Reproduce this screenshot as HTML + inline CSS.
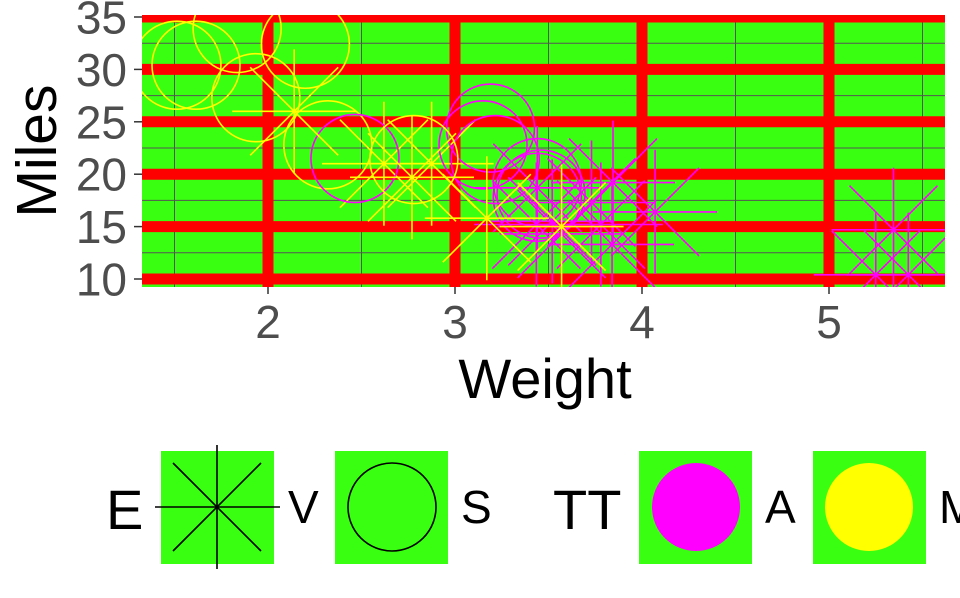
<!DOCTYPE html>
<html><head><meta charset="utf-8"><style>
body{margin:0;background:#fff;}
svg text{font-family:"Liberation Sans",sans-serif;}
</style></head><body>
<svg width="960" height="593" viewBox="0 0 960 593">
<defs><clipPath id="pc"><rect x="142" y="15" width="803" height="272"/></clipPath></defs>
<g id="panel"></g>
<g id="axes"></g>
<text x="545" y="398" font-size="56" text-anchor="middle" fill="#000">Weight</text>
<text transform="translate(56,151) rotate(-90)" font-size="57" text-anchor="middle" fill="#000">Miles</text>
<g>
<text x="106" y="529" font-size="56" fill="#000">E</text>
<rect x="161" y="451" width="113" height="113" fill="#39ff10"/>
<g stroke="#000" stroke-width="1.6">
<line x1="155" y1="507" x2="280" y2="507"/><line x1="217" y1="445" x2="217" y2="569"/>
<line x1="173" y1="463" x2="261" y2="551"/><line x1="173" y1="551" x2="261" y2="463"/></g>
<text x="288" y="523" font-size="46" fill="#000">V</text>
<rect x="335" y="451" width="113" height="113" fill="#39ff10"/>
<circle cx="392" cy="507" r="44" fill="none" stroke="#000" stroke-width="1.6"/>
<text x="461" y="523" font-size="46" fill="#000">S</text>
<text x="553" y="529" font-size="56" fill="#000">TT</text>
<rect x="639" y="451" width="113" height="113" fill="#39ff10"/>
<circle cx="696" cy="507" r="44" fill="#ff00ff"/>
<text x="765" y="523" font-size="46" fill="#000">A</text>
<rect x="813" y="451" width="113" height="113" fill="#39ff10"/>
<circle cx="869" cy="507" r="44" fill="#ffff00"/>
<text x="939" y="523" font-size="46" fill="#000">M</text>
</g>
</svg>
<script>
const weights=[2.620,2.875,2.320,3.215,3.440,3.460,3.570,3.190,3.150,3.440,3.440,4.070,3.730,3.780,5.250,5.424,5.345,2.200,1.615,1.835,2.465,3.520,3.435,3.840,3.845,1.935,2.140,1.513,3.170,2.770,3.570,2.780];
const miles=[21.0,21.0,22.8,21.4,18.7,18.1,14.3,24.4,22.8,19.2,17.8,16.4,17.3,15.2,10.4,10.4,14.7,32.4,30.4,33.9,21.5,15.5,15.2,13.3,19.2,27.3,26.0,30.4,15.8,19.7,15.0,21.4];
const vs=[0,0,1,1,0,1,0,1,1,1,1,0,0,0,0,0,0,1,1,1,1,0,0,0,0,1,0,1,0,0,0,1];
const am=[1,1,1,0,0,0,0,0,0,0,0,0,0,0,0,0,0,1,1,1,0,0,0,0,0,1,1,1,1,1,1,1];
const xTicks=[2,3,4,5];
const yTicks=[10,15,20,25,30,35];
const NS="http://www.w3.org/2000/svg";
const X=v=>268+(v-2)*187;
const Y=v=>279-(v-10)*10.48;
const panel=document.getElementById('panel');
const axes=document.getElementById('axes');
function mk(tag,at,parent){const e=document.createElementNS(NS,tag);for(const k in at)e.setAttribute(k,at[k]);parent.appendChild(e);return e;}
const bg=mk('rect',{x:142,y:15,width:803,height:272,fill:'#39ff10'},panel);


const g=mk('g',{'clip-path':'url(#pc)'},panel);


for(let i=0;i<xTicks.length+1;i++){const v=xTicks[0]-0.5+i;const l=mk('line',{x1:X(v),x2:X(v),y1:15,y2:287,stroke:'#555',"stroke-width":1},g);

}
for(let i=0;i<yTicks.length;i++){const v=yTicks[i]+2.5;const l=mk('line',{y1:Y(v),y2:Y(v),x1:142,x2:945,stroke:'#555',"stroke-width":1},g);

}
xTicks.forEach(v=>{const l=mk('line',{x1:X(v),x2:X(v),y1:15,y2:287,stroke:'#ff0000',"stroke-width":11},g);


const t=mk('text',{x:X(v),y:338,"font-size":46,"text-anchor":"middle",fill:'#4d4d4d'},axes);t.textContent=v;


const tk=mk('line',{x1:X(v),x2:X(v),y1:287,y2:294,stroke:'#333',"stroke-width":1.5},axes);

});
yTicks.forEach(v=>{const l=mk('line',{y1:Y(v),y2:Y(v),x1:142,x2:945,stroke:'#ff0000',"stroke-width":11},g);


const t=mk('text',{x:127,y:Y(v)+16.5,"font-size":46,"text-anchor":"end",fill:'#4d4d4d'},axes);t.textContent=v;


const tk=mk('line',{x1:134,x2:142,y1:Y(v),y2:Y(v),stroke:'#333',"stroke-width":1.5},axes);

});
for(let i=0;i<weights.length;i++){
 const cx=X(weights[i]),cy=Y(miles[i]),col=am[i]?'#ffff00':'#ff00ff';
 if(vs[i]){const c=mk('circle',{cx,cy,r:44,fill:'none',stroke:col,"stroke-width":1.6},g);
  
  }
 else{const s=mk('g',{stroke:col,"stroke-width":1.6},g);
  
  
  mk('line',{x1:cx-62,y1:cy,x2:cx+62,y2:cy},s);mk('line',{x1:cx,y1:cy-62,x2:cx,y2:cy+62},s);
  mk('line',{x1:cx-44,y1:cy-44,x2:cx+44,y2:cy+44},s);mk('line',{x1:cx-44,y1:cy+44,x2:cx+44,y2:cy-44},s);}
}
</script>
</body></html>
